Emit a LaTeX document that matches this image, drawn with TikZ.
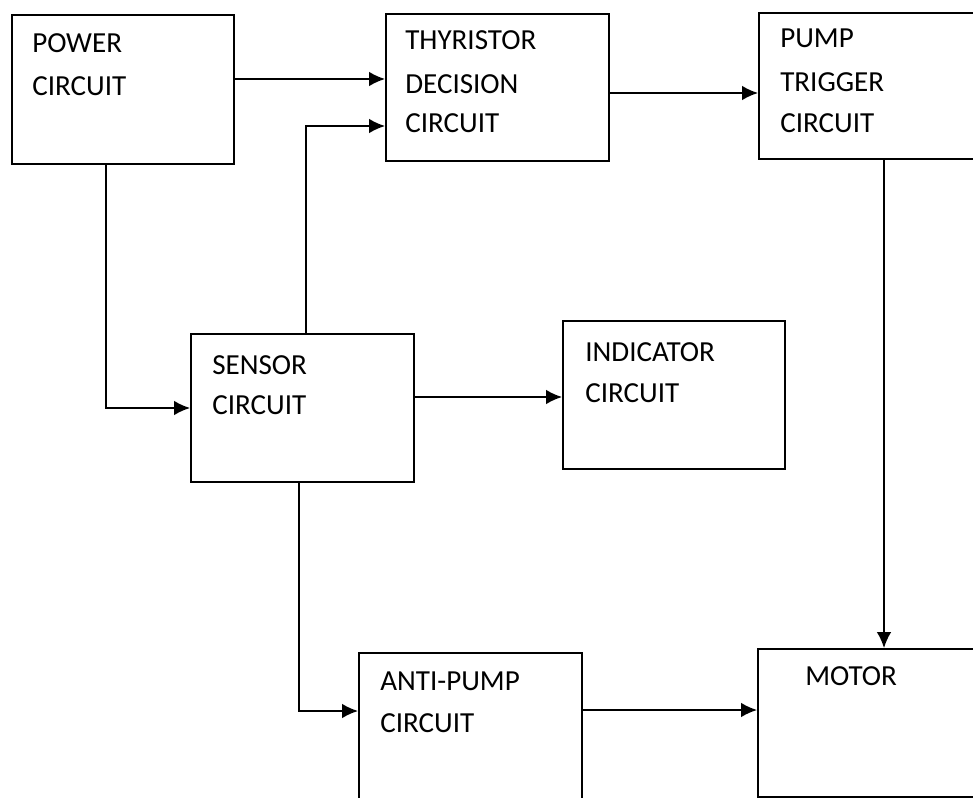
\documentclass[tikz,border=0pt]{standalone}
\usepackage{fontspec}
\setmainfont{Carlito}
\usetikzlibrary{arrows.meta}
\begin{document}
\begin{tikzpicture}[x=0.75pt,y=-0.75pt,
  box/.style={draw=black,line width=1.2pt},
  lbl/.style={anchor=base west,inner sep=0pt,font=\fontsize{21.8}{26}\selectfont},
  arr/.style={draw=black,line width=1.2pt,-{Latex[length=12pt,width=11pt]}},
  ln/.style={draw=black,line width=1.2pt}]
\useasboundingbox (0,0) rectangle (973,798);
\fill[white] (0,0) rectangle (973,798);
% boxes
\node[box,minimum width=222*0.75pt,minimum height=149*0.75pt,anchor=north west,inner sep=0pt] (power) at (11,14) {};
\node[box,minimum width=223*0.75pt,minimum height=147*0.75pt,anchor=north west,inner sep=0pt] (thy) at (385,13) {};
\node[box,minimum width=230*0.75pt,minimum height=146*0.75pt,anchor=north west,inner sep=0pt] (pump) at (758,12) {};
\node[box,minimum width=223*0.75pt,minimum height=148*0.75pt,anchor=north west,inner sep=0pt] (sensor) at (190,333) {};
\node[box,minimum width=222*0.75pt,minimum height=148*0.75pt,anchor=north west,inner sep=0pt] (ind) at (562,320) {};
\node[box,minimum width=223*0.75pt,minimum height=160*0.75pt,anchor=north west,inner sep=0pt] (anti) at (358,652) {};
\node[box,minimum width=230*0.75pt,minimum height=148*0.75pt,anchor=north west,inner sep=0pt] (motor) at (757,648) {};
% labels
\node[lbl] (powert1) at (32,53) {POWER};
\node[lbl] (powert2) at (32,96) {CIRCUIT};
\node[lbl] (thyt1) at (405,50) {THYRISTOR};
\node[lbl] (thyt2) at (405,94) {DECISION};
\node[lbl] (thyt3) at (405,133) {CIRCUIT};
\node[lbl] (pumpt1) at (780,48) {PUMP};
\node[lbl] (pumpt2) at (780,92) {TRIGGER};
\node[lbl] (pumpt3) at (780,133) {CIRCUIT};
\node[lbl] (sensort1) at (212,374) {SENSOR};
\node[lbl] (sensort2) at (212,414) {CIRCUIT};
\node[lbl] (indt1) at (585,361) {INDICATOR};
\node[lbl] (indt2) at (585,402) {CIRCUIT};
\node[lbl] (antit1) at (380,690) {ANTI-PUMP};
\node[lbl] (antit2) at (380,732) {CIRCUIT};
\node[lbl] (motort) at (805,685) {MOTOR};
% connectors
\draw[arr] (power.east |- 0,79) -- (thy.west |- 0,79);
\draw[arr] (sensor.north -| 306,0) -- (306,126) -- (thy.west |- 0,126);
\draw[arr] (thy.east |- 0,93) -- (pump.west |- 0,93);
\draw[arr] (power.south -| 106,0) -- (106,408) -- (sensor.west |- 0,408);
\draw[arr] (sensor.east |- 0,397) -- (ind.west |- 0,397);
\draw[arr] (sensor.south -| 299,0) -- (299,711) -- (anti.west |- 0,711);
\draw[arr] (anti.east |- 0,710) -- (motor.west |- 0,710);
\draw[arr] (pump.south -| 884,0) -- (motor.north -| 884,0);
\end{tikzpicture}
\end{document}
